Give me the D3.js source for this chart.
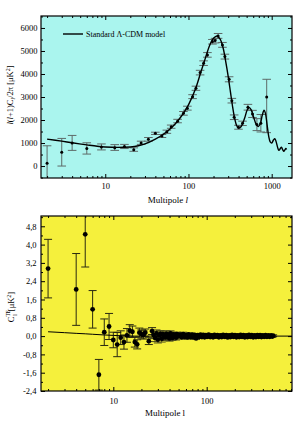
<!DOCTYPE html>
<html>
<head>
<meta charset="utf-8">
<script src="https://cdn.jsdelivr.net/npm/d3@7"></script>
<style>
body{margin:0;background:#fff}
svg{display:block;font-family:"Liberation Serif","Times New Roman",serif}
</style>
</head>
<body>
<svg id="chart" width="308" height="421"></svg>
<script>
// ---- TT panel (top) ----
const ttL  = [2,3,4,6,9,13,17,22,27,33,40,48,55,62,74,87,97,112,123,138,152,169,194,209,227,256,274,308,332,354,399,446,518,588,664,741,871]
const ttV  = [120,600,1000,760,830,800,850,710,1000,1160,1420,1300,1490,1710,1950,2290,2510,3015,3380,4060,4467,4830,5407,5450,5655,5263,4755,3770,2840,2118,1683,1857,2553,2262,1800,1857,3000]
const ttLo = [-700,0,680,520,700,680,760,640,940,1080,1370,1240,1420,1640,1880,2210,2430,2930,3290,3960,4370,4730,5300,5350,5550,5160,4650,3660,2740,2020,1600,1760,2430,2110,1540,1480,1450]
const ttHi = [880,1200,1330,1010,960,930,940,790,1080,1240,1470,1370,1560,1780,2030,2370,2600,3100,3470,4160,4570,4930,5500,5550,5760,5370,4860,3880,2940,2220,1770,1950,2680,2420,2060,2240,3770]

const modelTTL = [2,3,4,6,8,10,14,20,25,30,40,50,60,70,80,90,100,120,140,160,180,200,220,240,260,280,300,320,340,360,380,400,430,470,510,540,570,610,650,690,730,770,810,840,880,920,960,1000,1050,1090,1130,1180,1220,1270,1310,1360,1400,1440,1480,1510]
const modelTTV = [1170,1080,1010,920,860,830,810,830,880,960,1170,1380,1610,1850,2110,2380,2660,3300,4050,4700,5250,5550,5650,5520,5150,4550,3900,3200,2550,2050,1750,1650,1720,2050,2450,2540,2420,2100,1820,1720,1850,2200,2430,2300,1800,1300,1050,1000,1130,1190,1060,800,680,760,820,700,640,700,760,720]

const ttTicksY = [0,1000,2000,3000,4000,5000,6000]
const ttMinorY = [-500,500,1500,2500,3500,4500,5500,6500]

// ---- TE panel (bottom) ----
const teL = [2,4,5,6,7,8,9,10,11,12,13,14,15,16,17,18,19,20,21,22,24,26]
const teV = [2.95,2.04,4.45,1.17,-1.69,0.17,0.42,-0.17,-0.37,-0.07,-0.26,0.03,0.23,0.19,-0.26,-0.36,0.15,0.09,0.05,0.15,-0.22,0.22]
const teE = [1.28,1.57,1.43,0.82,0.67,0.58,0.57,0.34,0.53,0.3,0.31,0.3,0.27,0.25,0.22,0.2,0.2,0.18,0.18,0.16,0.15,0.15]

const bandL = [27,28,29,30,31,32,33,34,35,36,
               37,38,39,40,41,42,43,44,45,46,
               47,48,50,52,54,56,58,60,62,64,
               66,68,70,72,74,77,80,83,86,89,
               92,95,98,101,105,109,113,117,121,125,
               130,135,140,145,150,156,162,168,174,180,
               187,194,201,208,215,223,231,239,247,256,
               265,274,284,294,304,315,326,337,349,361,
               373,386,399,413,427,442,457,473,489,505,
               515]
const bandV = [0.05,-0.08,0.12,-0.15,0.03,0.1,-0.12,0.08,0.0,-0.06,
               0.1,-0.04,0.06,-0.1,0.12,0.02,-0.08,0.07,-0.02,0.05,
               -0.07,0.08,0.0,0.06,-0.05,0.09,-0.03,0.04,-0.06,0.07,
               0.0,-0.05,0.06,-0.04,0.05,-0.1,0.04,-0.03,0.06,-0.04,
               0.05,-0.05,0.04,-0.03,0.06,-0.04,0.03,-0.05,0.05,-0.02,
               0.04,-0.05,0.03,-0.04,0.05,-0.03,0.04,-0.06,0.03,-0.04,
               0.05,-0.03,0.04,-0.05,0.03,-0.04,0.05,-0.03,0.04,-0.05,
               0.03,-0.04,0.05,-0.03,0.04,-0.05,0.03,-0.04,0.04,-0.03,
               0.04,-0.04,0.03,-0.03,0.04,-0.03,0.03,-0.03,0.03,-0.02,
               0.02]
const bandE = [0.16,0.16,0.15,0.15,0.15,0.14,0.14,0.14,0.13,0.13,
               0.13,0.12,0.12,0.12,0.11,0.11,0.11,0.1,0.1,0.1,
               0.1,0.09,0.09,0.09,0.08,0.08,0.08,0.07,0.07,0.07,
               0.06,0.06,0.06,0.05,0.05,0.05,0.05,0.04,0.04,0.04,
               0.04,0.04,0.04,0.04,0.04,0.04,0.04,0.04,0.04,0.04,
               0.04,0.04,0.04,0.04,0.04,0.04,0.04,0.04,0.04,0.04,
               0.04,0.04,0.04,0.04,0.04,0.04,0.04,0.04,0.04,0.04,
               0.04,0.04,0.04,0.04,0.04,0.04,0.04,0.04,0.04,0.04,
               0.04,0.04,0.04,0.04,0.04,0.04,0.04,0.04,0.04,0.04,
               0.04]

const modelTEL = [2,3,4,5,6,8,10,13,17,22,30,50,100,200,400,820]
const modelTEV = [0.19,0.15,0.12,0.1,0.08,0.05,0.03,0.01,0,0,0,0,0,0,0,0]

const teTicksY = [-2.4,-1.6,-0.8,0,0.8,1.6,2.4,3.2,4.0,4.8]
const teMinorY = [-2.0,-1.2,-0.4,0.4,1.2,2.0,2.8,3.6,4.4,5.2]

const xTickLabels = [10,100,1000]

const svg = d3.select("#chart")

function minorLogTicks(x){
    const [a,b] = x.domain()
    return x.ticks().filter(v => v >= a && v <= b && !xTickLabels.includes(v))
}

function addAxes(g, x, y, box, yMajor, yMinor, yFmt, padX, padY){
    const [x0,x1,y0,y1] = box
    const maj = xTickLabels.filter(v => v >= x.domain()[0] && v <= x.domain()[1])
    // bottom
    g.append("g").attr("class","ax").attr("transform",`translate(0,${y1})`)
        .call(d3.axisBottom(x).tickValues(maj).tickSize(-4).tickPadding(padX).tickFormat(d3.format("d")))
    g.append("g").attr("class","ax").attr("transform",`translate(0,${y1})`)
        .call(d3.axisBottom(x).tickValues(minorLogTicks(x)).tickSize(-2).tickFormat(""))
    // top
    g.append("g").attr("class","ax").attr("transform",`translate(0,${y0})`)
        .call(d3.axisTop(x).tickValues(maj).tickSize(-4).tickFormat(""))
    g.append("g").attr("class","ax").attr("transform",`translate(0,${y0})`)
        .call(d3.axisTop(x).tickValues(minorLogTicks(x)).tickSize(-2).tickFormat(""))
    // left
    g.append("g").attr("class","ax").attr("transform",`translate(${x0},0)`)
        .call(d3.axisLeft(y).tickValues(yMajor).tickSize(-4).tickPadding(padY).tickFormat(yFmt))
    g.append("g").attr("class","ax").attr("transform",`translate(${x0},0)`)
        .call(d3.axisLeft(y).tickValues(yMinor).tickSize(-2).tickFormat(""))
    // right
    g.append("g").attr("class","ax").attr("transform",`translate(${x1},0)`)
        .call(d3.axisRight(y).tickValues(yMajor).tickSize(-4).tickFormat(""))
    g.append("g").attr("class","ax").attr("transform",`translate(${x1},0)`)
        .call(d3.axisRight(y).tickValues(yMinor).tickSize(-2).tickFormat(""))

    g.selectAll(".ax .domain").remove()
    g.selectAll(".ax line").attr("stroke","#000").attr("stroke-width",1)
    g.selectAll(".ax text").attr("font-family","Liberation Serif, serif").attr("font-size",8.5).attr("fill","#000")
}

function panel(box, xDom, yDom, fill, clipId){
    const [x0,x1,y0,y1] = box
    const x = d3.scaleLog().domain(xDom).range([x0,x1])
    const y = d3.scaleLinear().domain(yDom).range([y1,y0])
    const g = svg.append("g")
    g.append("rect").attr("x",x0).attr("y",y0).attr("width",x1-x0).attr("height",y1-y0)
        .attr("fill",fill)
    g.append("clipPath").attr("id",clipId).append("rect")
        .attr("x",x0).attr("y",y0).attr("width",x1-x0).attr("height",y1-y0)
    const plot = g.append("g").attr("clip-path",`url(#${clipId})`)
    return {x, y, g, plot}
}

function errBars(plot, x, y, ls, lo, hi, color, cap){
    const eg = plot.append("g").attr("stroke",color).attr("stroke-width",1)
    ls.forEach((l,i) => {
        const cx = x(l)
        eg.append("line").attr("x1",cx).attr("x2",cx).attr("y1",y(lo[i])).attr("y2",y(hi[i]))
        eg.append("line").attr("x1",cx-cap).attr("x2",cx+cap).attr("y1",y(lo[i])).attr("y2",y(lo[i]))
        eg.append("line").attr("x1",cx-cap).attr("x2",cx+cap).attr("y1",y(hi[i])).attr("y2",y(hi[i]))
    })
}

// ===== top panel =====
const boxT = [41,292,16,178]
const T = panel(boxT, [1.69,1754], [-520,6520], "#aaf5ee", "clipT")

errBars(T.plot, T.x, T.y, ttL, ttLo, ttHi, "#5e6a68", 4.3)

T.plot.append("path")
    .datum(modelTTL.map((l,i) => [l, modelTTV[i]]))
    .attr("fill","none").attr("stroke","#000").attr("stroke-width",1.4)
    .attr("d", d3.line().x(d => T.x(d[0])).y(d => T.y(d[1])).curve(d3.curveCatmullRom))

T.plot.append("g").selectAll("circle").data(ttL).join("circle")
    .attr("cx", d => T.x(d)).attr("cy", (d,i) => T.y(ttV[i])).attr("r",1.5).attr("fill","#000")

addAxes(T.g, T.x, T.y, boxT, ttTicksY, ttMinorY, d3.format("d"), 4.5, 3.5)

T.g.append("rect").attr("x",boxT[0]).attr("y",boxT[2]).attr("width",boxT[1]-boxT[0]).attr("height",boxT[3]-boxT[2])
    .attr("fill","none").attr("stroke","#000").attr("stroke-width",1.2)

// legend
T.g.append("line").attr("x1",63).attr("x2",83).attr("y1",34).attr("y2",34).attr("stroke","#000").attr("stroke-width",1.4)
T.g.append("text").attr("x",86).attr("y",36.8).attr("font-size",8).text("Standard Λ-CDM model")

// axis titles
T.g.append("text").attr("x",168).attr("y",203).attr("text-anchor","middle").attr("font-size",9)
    .call(t => { t.append("tspan").text("Multipole "); t.append("tspan").attr("font-style","italic").text("l") })

const ylabT = T.g.append("text").attr("transform","translate(13,95) rotate(-90)")
    .attr("text-anchor","middle").attr("font-size",8.5)
ylabT.append("tspan").attr("font-style","italic").text("l")
ylabT.append("tspan").text("(")
ylabT.append("tspan").attr("font-style","italic").text("l")
ylabT.append("tspan").text("+1)C")
ylabT.append("tspan").attr("font-style","italic").attr("font-size",6).attr("dy",2).text("l")
ylabT.append("tspan").attr("dy",-2).text("/2π [μK")
ylabT.append("tspan").attr("font-size",6).attr("dy",-3).text("2")
ylabT.append("tspan").attr("dy",3).text("]")

// ===== bottom panel =====
const boxB = [41,292,216,391]
const B = panel(boxB, [1.68,820], [-2.4,5.25], "#f5f03c", "clipB")

errBars(B.plot, B.x, B.y, bandL, bandL.map((d,i) => bandV[i]-bandE[i]), bandL.map((d,i) => bandV[i]+bandE[i]), "#4a4a20", 4)
errBars(B.plot, B.x, B.y, teL, teL.map((d,i) => teV[i]-teE[i]), teL.map((d,i) => teV[i]+teE[i]), "#2a2a10", 4)

B.plot.append("path")
    .datum(modelTEL.map((l,i) => [l, modelTEV[i]]))
    .attr("fill","none").attr("stroke","#000").attr("stroke-width",1)
    .attr("d", d3.line().x(d => B.x(d[0])).y(d => B.y(d[1])).curve(d3.curveMonotoneX))

B.plot.append("g").selectAll("circle").data(teL.concat(bandL)).join("circle")
    .attr("cx", d => B.x(d))
    .attr("cy", (d,i) => B.y(i < teL.length ? teV[i] : bandV[i-teL.length]))
    .attr("r",2.4).attr("fill","#000")

addAxes(B.g, B.x, B.y, boxB, teTicksY, teMinorY, v => v.toFixed(1).replace(".",","), 7, 4.5)

B.g.append("rect").attr("x",boxB[0]).attr("y",boxB[2]).attr("width",boxB[1]-boxB[0]).attr("height",boxB[3]-boxB[2])
    .attr("fill","none").attr("stroke","#000").attr("stroke-width",1.2)

B.g.append("text").attr("x",165).attr("y",416).attr("text-anchor","middle").attr("font-size",9)
    .text("Multipole l")

const ylabB = B.g.append("text").attr("transform","translate(14,307) rotate(-90)")
    .attr("text-anchor","middle").attr("font-size",8.5)
ylabB.append("tspan").text("C")
ylabB.append("tspan").attr("font-size",5.5).attr("dy",-4).text("TE")
ylabB.append("tspan").attr("font-size",6).attr("dy",7).attr("dx",-6).text("l")
ylabB.append("tspan").attr("dy",-3).attr("dx",3).text("[μK")
ylabB.append("tspan").attr("font-size",6).attr("dy",-3).text("2")
ylabB.append("tspan").attr("dy",3).text("]")
</script>
</body>
</html>
